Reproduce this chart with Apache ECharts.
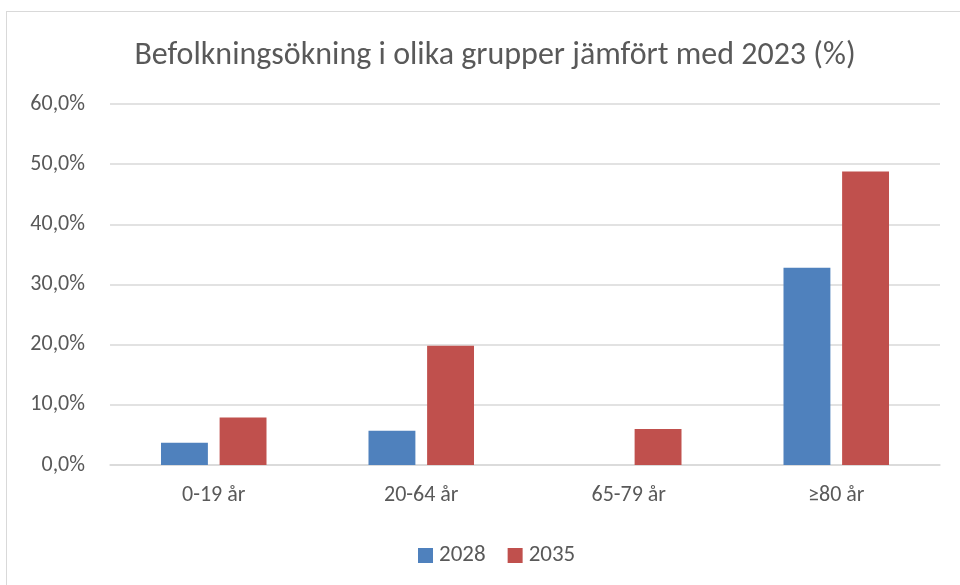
<!DOCTYPE html>
<html lang="sv">
<head>
<meta charset="UTF-8">
<title>Befolkningsökning</title>
<script src="https://cdn.jsdelivr.net/npm/echarts@6/dist/echarts.min.js"></script>
<style>
  html, body { margin: 0; padding: 0; background: #fff; }
  #frame { position: absolute; left: 6px; top: 11px; width: 960px; height: 580px; border: 1px solid #d9d9d9; box-sizing: border-box; }
  #chart { width: 960px; height: 585px; }
</style>
</head>
<body>
<div id="frame"></div>
<div id="chart"></div>
<script>
  // kategorier och värden (procent)
  var categories = ['0-19 år', '20-64 år', '65-79 år', '≥80 år'];
  var seriesNames = ['2028', '2035'];
  var values2028 = [3.7, 5.7, 0, 32.8];
  var values2035 = [7.9, 19.8, 6.0, 48.8];

  var font = 'Carlito, Calibri, "Liberation Sans", sans-serif';
  var fmt = function (v) { return v.toFixed(1).replace('.', ',') + '%'; };

  var chart = echarts.init(document.getElementById('chart'));
  chart.setOption({
    animation: false,
    title: {
      text: 'Befolkningsökning i olika grupper jämfört med 2023 (%)',
      left: 490,
      textAlign: 'center',
      top: 35,
      textStyle: { fontFamily: font, fontSize: 32, fontWeight: 'normal', color: '#595959' }
    },
    legend: {
      data: seriesNames,
      top: 539,
      left: 413,
      itemWidth: 15,
      itemHeight: 15,
      itemGap: 22,
      icon: 'rect',
      textStyle: { fontFamily: font, fontSize: 23, color: '#595959', padding: [0, 0, 0, 1] }
    },
    grid: { left: 110, right: 20, top: 104, bottom: 120 },
    xAxis: {
      type: 'category',
      data: categories,
      axisTick: { show: false },
      axisLine: { lineStyle: { color: '#d9d9d9', width: 1.5 } },
      axisLabel: { fontFamily: font, fontSize: 22, color: '#595959', margin: 19 }
    },
    yAxis: {
      type: 'value',
      min: 0,
      max: 60,
      interval: 10,
      axisLabel: { fontFamily: font, fontSize: 22, color: '#595959', margin: 25, formatter: fmt },
      splitLine: { lineStyle: { color: '#d9d9d9', width: 1.5 } }
    },
    series: [
      {
        name: seriesNames[0],
        type: 'bar',
        data: values2028,
        barWidth: '22.6%',
        barGap: '25%',
        itemStyle: { color: '#4f81bd' }
      },
      {
        name: seriesNames[1],
        type: 'bar',
        data: values2035,
        barWidth: '22.6%',
        barGap: '25%',
        itemStyle: { color: '#c0504d' }
      }
    ]
  });
</script>
</body>
</html>
